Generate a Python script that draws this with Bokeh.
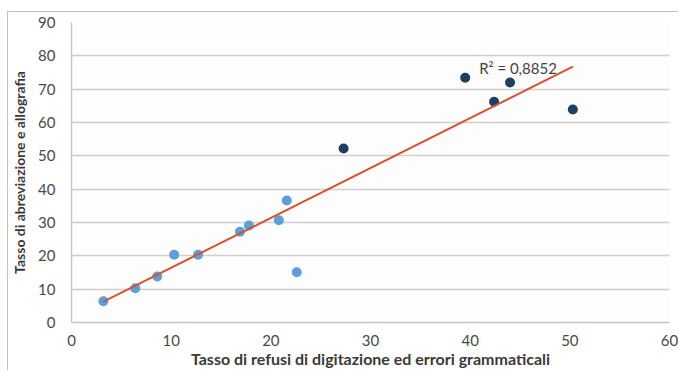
import numpy as np
from bokeh.plotting import figure
from bokeh.models import Range1d, Label, SingleIntervalTicker
from bokeh.embed import file_html
from bokeh.resources import INLINE

# Data
light_x = [3.2, 6.4, 8.6, 10.3, 12.7, 16.9, 17.8, 20.8, 21.6, 22.6]
light_y = [6.4, 10.3, 13.8, 20.3, 20.3, 27.2, 29.1, 30.7, 36.6, 15.1]
dark_x = [27.3, 39.5, 42.4, 44.0, 50.3]
dark_y = [52.2, 73.4, 66.2, 72.0, 63.9]
r2_text = "R\u00b2 = 0,8852"
x_title = "Tasso di refusi di digitazione ed errori grammaticali"
y_title = "Tasso di abreviazione e allografia"

FONT = "Lato"

p = figure(width=671, height=359, output_backend="svg", toolbar_location=None,
           x_range=Range1d(0, 60), y_range=Range1d(0, 90),
           min_border_left=60, min_border_right=10, min_border_top=10, min_border_bottom=49)
p.styles = {"margin-left": "7px", "margin-top": "11px",
            "border-left": "1px solid #c6c1c1", "border-top": "1px solid #c6c1c1"}
p.outline_line_color = None
p.background_fill_color = "#fdfdfd"
p.border_fill_color = "white"

p.xaxis.ticker = SingleIntervalTicker(interval=10)
p.yaxis.ticker = SingleIntervalTicker(interval=10)
for ax in (p.xaxis[0], p.yaxis[0]):
    ax.major_tick_line_color = None
    ax.major_tick_out = 0
    ax.major_tick_in = 0
    ax.minor_tick_line_color = None
    ax.minor_tick_out = 0
    ax.axis_line_color = "#c9c2c2"
    ax.axis_line_width = 1.5
    ax.major_label_text_font = FONT
    ax.major_label_text_font_size = "15px"
    ax.major_label_text_color = "#4a4a4a"
    ax.axis_label_text_font = FONT
    ax.axis_label_text_font_style = "bold"
    ax.axis_label_text_color = "#3a3a3a"
p.yaxis.axis_label_text_font_size = "14px"
p.xaxis.axis_label_text_font_size = "16px"
p.yaxis.major_label_standoff = 16
p.xaxis.major_label_standoff = 12
p.xaxis.axis_label_standoff = 0
p.yaxis.axis_label_standoff = 7
p.xaxis.axis_label = x_title
p.yaxis.axis_label = y_title

p.xgrid.grid_line_color = None
p.ygrid.grid_line_color = "#d4cdcd"
p.ygrid.grid_line_width = 1.5

# Linear trend line fitted on all points
all_x = np.array(light_x + dark_x)
all_y = np.array(light_y + dark_y)
slope, intercept = np.polyfit(all_x, all_y, 1)
tx = np.array([all_x.min(), all_x.max()])
ty = slope * tx + intercept

p.scatter(light_x, light_y, size=10, color="#5d9fdb", line_color=None)
p.scatter(dark_x, dark_y, size=10, color="#1d3f62", line_color=None)
p.line(tx, ty, line_color="#d8522c", line_width=2)

p.add_layout(Label(x=40.9, y=76.5, text=r2_text, text_font=FONT, text_font_size="15px",
                   text_color="#444444", text_baseline="middle", text_align="left"))

open("out.html", "w").write(file_html(p, INLINE))
